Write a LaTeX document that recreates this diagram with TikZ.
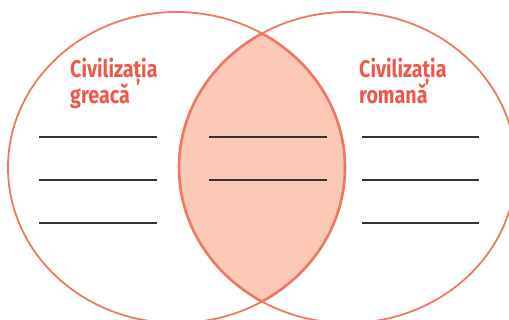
\documentclass[tikz,border=0pt]{standalone}
\usepackage{fontspec}
\setmainfont{Fira Sans}[FakeStretch=0.82]
\definecolor{vstroke}{HTML}{F07862}
\definecolor{vfill}{HTML}{FBC9B5}
\definecolor{vtext}{HTML}{EE5849}
\definecolor{vline}{HTML}{333333}
\begin{document}
\begin{tikzpicture}[x=1pt,y=-1pt,
  title/.style={text=vtext,font=\fontsize{24}{27}\selectfont\bfseries,inner sep=0pt,anchor=base west},
  blank/.style={draw=vline,line width=1.1pt},
  ring/.style={draw=vstroke,line width=1.8pt}]
\useasboundingbox (0,0) rectangle (509,320);
\begin{scope}
  \clip (176.5,167.5) ellipse [x radius=168.5,y radius=155.5];
  \fill[vfill] (347.5,167.5) ellipse [x radius=168.5,y radius=155.5];
\end{scope}
\draw[ring] (176.5,167.5) ellipse [x radius=168.5,y radius=155.5];
\draw[ring] (347.5,167.5) ellipse [x radius=168.5,y radius=155.5];
\begin{scope}
  \clip (176.5,167.5) ellipse [x radius=168.5,y radius=155.5];
  \draw[ring,line width=2.6pt] (347.5,167.5) ellipse [x radius=168.5,y radius=155.5];
\end{scope}
\begin{scope}
  \clip (347.5,167.5) ellipse [x radius=168.5,y radius=155.5];
  \draw[ring,line width=2.6pt] (176.5,167.5) ellipse [x radius=168.5,y radius=155.5];
\end{scope}
\node[title] (gr1) at (70,77.5) {Civilizația};
\node[title] (gr2) at (70,104) {greacă};
\node[title] (ro1) at (359,77.5) {Civilizația};
\node[title] (ro2) at (359,104) {romană};
\foreach \y [count=\i] in {137,180,223}{
  \coordinate (la\i) at (39,\y); \coordinate (lb\i) at (157,\y);
  \draw[blank] (la\i) -- (lb\i);
  \coordinate (ra\i) at (362,\y); \coordinate (rb\i) at (479,\y);
  \draw[blank] (ra\i) -- (rb\i);
}
\foreach \y [count=\i] in {137,180}{
  \coordinate (ma\i) at (209,\y); \coordinate (mb\i) at (327,\y);
  \draw[blank] (ma\i) -- (mb\i);
}
\end{tikzpicture}
\end{document}
